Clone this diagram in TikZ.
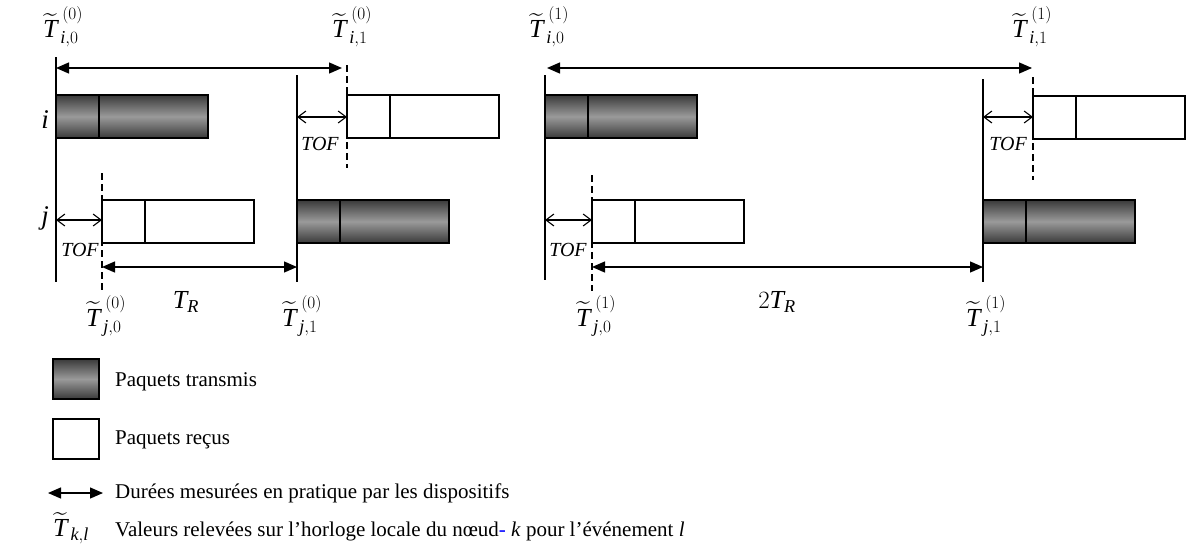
\documentclass[tikz,border=0pt]{standalone}
\usepackage{amsmath}
\usepackage{fontspec}
\setmainfont{Liberation Serif}
\usetikzlibrary{arrows.meta}
\definecolor{shdark}{HTML}{3A3A3A}
\definecolor{shmid}{HTML}{9A9A9A}
\tikzset{
  every node/.style={font=\fontsize{21}{25}\selectfont,inner sep=0pt},
  sent/.style={draw,line width=1.8pt,top color=shdark,bottom color=shdark,middle color=shmid,minimum width=152pt,minimum height=43pt,outer sep=0pt},
  recv/.style={draw,line width=1.4pt,fill=white,minimum width=152pt,minimum height=43pt,outer sep=0pt},
  divider/.style={line width=1.4pt},
  tline/.style={line width=1.4pt},
  tdash/.style={line width=1.3pt,dash pattern=on 7pt off 4pt},
  meas/.style={{Triangle[length=13pt,width=11pt]}-{Triangle[length=13pt,width=11pt]},line width=1.3pt},
  tof/.style={{Straight Barb[length=8pt,width=12pt]}-{Straight Barb[length=8pt,width=12pt]},line width=1.1pt},
  stamp/.style={font=\fontsize{26}{30}\selectfont},
  lbl/.style={font=\itshape\fontsize{20}{24}\selectfont},
  node/.style={font=\itshape\fontsize{27}{30}\selectfont},
  legend/.style={anchor=west},
}
\newcommand{\stampT}[3]{$\widetilde{\textit{T}}^{\;(#3)}_{\,\textit{#1},#2}$}
\newcommand{\packet}[4]{%
  \node[#2,anchor=north west] (#1) at (#3,#4) {};
  \draw[divider] ([xshift=43pt]#1.north west) -- ([xshift=43pt]#1.south west);}

\begin{document}
\begin{tikzpicture}[x=1pt,y=-1pt]
\path[use as bounding box] (0,0) rectangle (1186,554);
\fill[white] (0,0) rectangle (1186,554);
\node[node] (ni) at (45,120) {i};
\node[node] (nj) at (45,218) {j};
% first exchange
\coordinate (a0t) at (56,57);   \coordinate (a0b) at (56,282);
\coordinate (a1t) at (347,65);  \coordinate (a1b) at (347,168);
\coordinate (b0t) at (102,173); \coordinate (b0b) at (102,291);
\coordinate (b1t) at (297,75);  \coordinate (b1b) at (297,282);
\draw[tline] (a0t) -- (a0b);
\draw[tdash] (a1t) -- (a1b);
\draw[tdash] (b0t) -- (b0b);
\draw[tline] (b1t) -- (b1b);
\packet{si0}{sent}{56}{95}
\packet{ri0}{recv}{347}{95}
\packet{rj0}{recv}{102}{200}
\packet{sj0}{sent}{297}{200}
\draw[meas] (a0t |- 0,68) -- ([xshift=-5pt]a1t |- 0,68);
\draw[tof] (b1t |- 0,117) -- (a1t |- 0,117);
\draw[tof] (a0t |- 0,220) -- (b0t |- 0,220);
\draw[meas] (b0t |- 0,267) -- (b1t |- 0,267);
\node[lbl] (tof1) at (320,144) {TOF};
\node[lbl] (tof2) at (80,250) {TOF};
\node[stamp] (ti00) at (63,27) {\stampT{i}{0}{0}};
\node[stamp] (ti10) at (352,27) {\stampT{i}{1}{0}};
\node[stamp] (tj00) at (106,316) {\stampT{j}{0}{0}};
\node[stamp] (tj10) at (302,316) {\stampT{j}{1}{0}};
\node[stamp] (tr1) at (186,302) {$\textit{T}_{\textit{R}}$};
% second exchange
\coordinate (c0t) at (545,75);  \coordinate (c0b) at (545,280);
\coordinate (c1t) at (1033,77); \coordinate (c1b) at (1033,180);
\coordinate (d0t) at (592,175); \coordinate (d0b) at (592,291);
\coordinate (d1t) at (983,79);  \coordinate (d1b) at (983,282);
\draw[tline] (c0t) -- (c0b);
\draw[tdash] (c1t) -- (c1b);
\draw[tdash] (d0t) -- (d0b);
\draw[tline] (d1t) -- (d1b);
\packet{si1}{sent}{545}{95}
\packet{ri1}{recv}{1033}{96}
\packet{rj1}{recv}{592}{200}
\packet{sj1}{sent}{983}{200}
\draw[meas] ([xshift=2pt]c0t |- 0,68) -- ([xshift=-1pt]c1t |- 0,68);
\draw[tof] (d1t |- 0,117) -- (c1t |- 0,117);
\draw[tof] (c0t |- 0,220) -- (d0t |- 0,220);
\draw[meas] (d0t |- 0,267) -- (d1t |- 0,267);
\node[lbl] (tof3) at (1008,144) {TOF};
\node[lbl] (tof4) at (568,250) {TOF};
\node[stamp] (ti01) at (549,27) {\stampT{i}{0}{1}};
\node[stamp] (ti11) at (1032,27) {\stampT{i}{1}{1}};
\node[stamp] (tj01) at (596,316) {\stampT{j}{0}{1}};
\node[stamp] (tj11) at (986,316) {\stampT{j}{1}{1}};
\node[stamp] (tr2) at (777,302) {$2\textit{T}_{\textit{R}}$};
% legend
\node[sent,minimum width=46pt,minimum height=40pt,anchor=north west] (ksent) at (53,359) {};
\node[legend] (tsent) at (115,382) {Paquets transmis};
\node[recv,minimum width=46pt,minimum height=40pt,anchor=north west] (krecv) at (53,419) {};
\node[legend] (trecv) at (115,440) {Paquets reçus};
\coordinate (kal) at (48,493); \coordinate (kar) at (103,493);
\draw[meas] (kal) -- (kar);
\node[legend] (tmeas) at (115,493) {Durées mesurées en pratique par les dispositifs};
\node[stamp] (kstamp) at (71,528) {$\widetilde{\textit{T}}_{\,\textit{k},\textit{l}}$};
\node[legend] (tstamp) at (115,531) {Valeurs relevées sur l’horloge locale du nœud{\color{blue}-} \textit{k} pour l’événement \textit{l}};
\end{tikzpicture}
\end{document}
